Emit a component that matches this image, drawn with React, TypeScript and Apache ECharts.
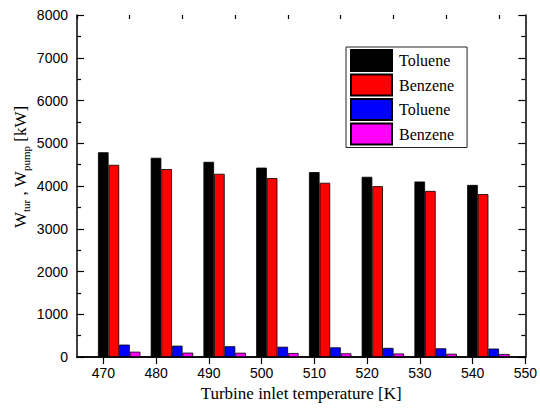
import React, { useEffect, useRef } from "react";
import * as echarts from "echarts";

const temperatures = [470, 480, 490, 500, 510, 520, 530, 540];
const tolueneTurbine = [4790, 4660, 4565, 4430, 4325, 4215, 4105, 4025];
const benzeneTurbine = [4495, 4395, 4285, 4185, 4075, 3995, 3885, 3810];
const toluenePump = [290, 265, 252, 240, 226, 213, 203, 197];
const benzenePump = [124, 102, 100, 93, 86, 82, 76, 70];
const xTickLabels = ["465", "470", "475", "480", "485", "490", "495", "500", "505", "510", "515", "520", "525", "530", "535", "540", "545", "550"];
const legendLabels = ["Toluene", "Benzene", "Toluene", "Benzene"];
const seriesKeys = ["Toluene W_tur", "Benzene W_tur", "Toluene W_pump", "Benzene W_pump"];
const seriesColors = ["#000000", "#ff0000", "#0000ff", "#ff00ff"];

const W = 540;
const H = 413;
const GRID = { left: 77, top: 15, width: 451, height: 342 };
const X_MIN = 465;
const X_MAX = 550;
const SANS = 'Arial, "Liberation Sans", sans-serif';
const SERIF = '"Times New Roman", "Liberation Serif", serif';

export default function App() {
  const ref = useRef<HTMLDivElement>(null);
  useEffect(() => {
    if (!ref.current) return;
    const chart = echarts.init(ref.current, undefined, { renderer: "svg", width: W, height: H });
    const barW = (2 * GRID.width) / (X_MAX - X_MIN);
    const shift = 3; // group centre lies 1.5 bar widths right of the first bar
    const values = [tolueneTurbine, benzeneTurbine, toluenePump, benzenePump];
    const axisLine = { show: true, lineStyle: { color: "#000", width: 1.5 } };
    const nameMap: Record<string, string> = {};
    seriesKeys.forEach((k, i) => (nameMap[k] = legendLabels[i]));

    chart.setOption({
      animation: false,
      backgroundColor: "#fff",
      grid: { ...GRID, containLabel: false },
      legend: {
        orient: "vertical",
        left: 346,
        top: 47,
        itemWidth: 41,
        itemHeight: 21,
        itemGap: 1.5,
        padding: [2, 13, 2, 4],
        borderColor: "#222",
        borderWidth: 1,
        backgroundColor: "#fff",
        selectedMode: false,
        icon: "rect",
        data: seriesKeys,
        formatter: (name: string) => nameMap[name],
        textStyle: { fontFamily: SERIF, fontSize: 16, color: "#000", padding: [0, 0, 0, 2] },
      },
      xAxis: [
        {
          type: "value",
          position: "bottom",
          min: X_MIN,
          max: X_MAX,
          interval: 5,
          axisLine,
          axisTick: { show: false },
          splitLine: { show: false },
          axisLabel: {
            color: "#000",
            fontFamily: SANS,
            fontSize: 14,
            margin: 9,
            formatter: (v: number) => (v % 10 === 0 ? String(v) : ""),
          },
          name: "Turbine inlet temperature [K]",
          nameLocation: "middle",
          nameGap: 28,
          nameTextStyle: { fontFamily: SERIF, fontSize: 17, color: "#000" },
        },
        {
          type: "category",
          position: "top",
          data: xTickLabels,
          boundaryGap: false,
          axisLine,
          axisTick: {
            show: true,
            inside: true,
            length: 7,
            interval: (_i: number, v: string) => Number(v) % 10 === 0,
            lineStyle: { color: "#000", width: 1.2 },
          },
          axisLabel: { show: false },
          splitLine: { show: false },
        },
        {
          type: "category",
          position: "top",
          data: xTickLabels,
          boundaryGap: false,
          axisLine: { show: false },
          axisTick: {
            show: true,
            inside: true,
            length: 4,
            interval: (_i: number, v: string) => Number(v) % 10 !== 0,
            lineStyle: { color: "#000", width: 1.2 },
          },
          axisLabel: { show: false },
          splitLine: { show: false },
        },
        {
          type: "value",
          show: false,
          min: X_MIN - shift,
          max: X_MAX - shift,
          splitLine: { show: false },
        },
      ],
      yAxis: [
        {
          type: "value",
          position: "left",
          min: 0,
          max: 8000,
          interval: 1000,
          axisLine,
          axisTick: { show: true, inside: true, length: 7, lineStyle: { color: "#000", width: 1.2 } },
          minorTick: { show: true, splitNumber: 2, length: 4, lineStyle: { color: "#000", width: 1.2 } },
          splitLine: { show: false },
          minorSplitLine: { show: false },
          axisLabel: {
            color: "#000",
            fontFamily: SANS,
            fontSize: 14,
            margin: 9,
            formatter: (v: number) => String(v),
          },
        },
        {
          type: "value",
          position: "right",
          min: 0,
          max: 8000,
          interval: 1000,
          axisLine,
          axisTick: { show: true, inside: true, length: 7, lineStyle: { color: "#000", width: 1.2 } },
          minorTick: { show: true, splitNumber: 2, length: 4, lineStyle: { color: "#000", width: 1.2 } },
          splitLine: { show: false },
          minorSplitLine: { show: false },
          axisLabel: { show: false },
        },
      ],
      series: seriesKeys.map((name, i) => ({
        type: "bar",
        name,
        xAxisIndex: 3,
        yAxisIndex: 0,
        barWidth: barW,
        barGap: "0%",
        data: temperatures.map((t, j) => [t, values[i][j]]),
        itemStyle: { color: seriesColors[i], borderColor: "#000", borderWidth: 0.8 },
      })),
      graphic: [
        {
          type: "text",
          x: 20,
          y: 167,
          rotation: Math.PI / 2,
          style: {
            text: "{m|W}{s|tur}{m| , W}{s|pump}{m| [kW]}",
            align: "center",
            verticalAlign: "middle",
            fill: "#000",
            rich: {
              m: { fontFamily: SERIF, fontSize: 17, lineHeight: 22, fill: "#000" },
              s: { fontFamily: SERIF, fontSize: 11, lineHeight: 11, verticalAlign: "bottom", fill: "#000" },
            },
          },
        },
      ],
    });
    return () => chart.dispose();
  }, []);
  return <div ref={ref} style={{ position: "fixed", left: 0, top: 0, width: W, height: H }} />;
}
